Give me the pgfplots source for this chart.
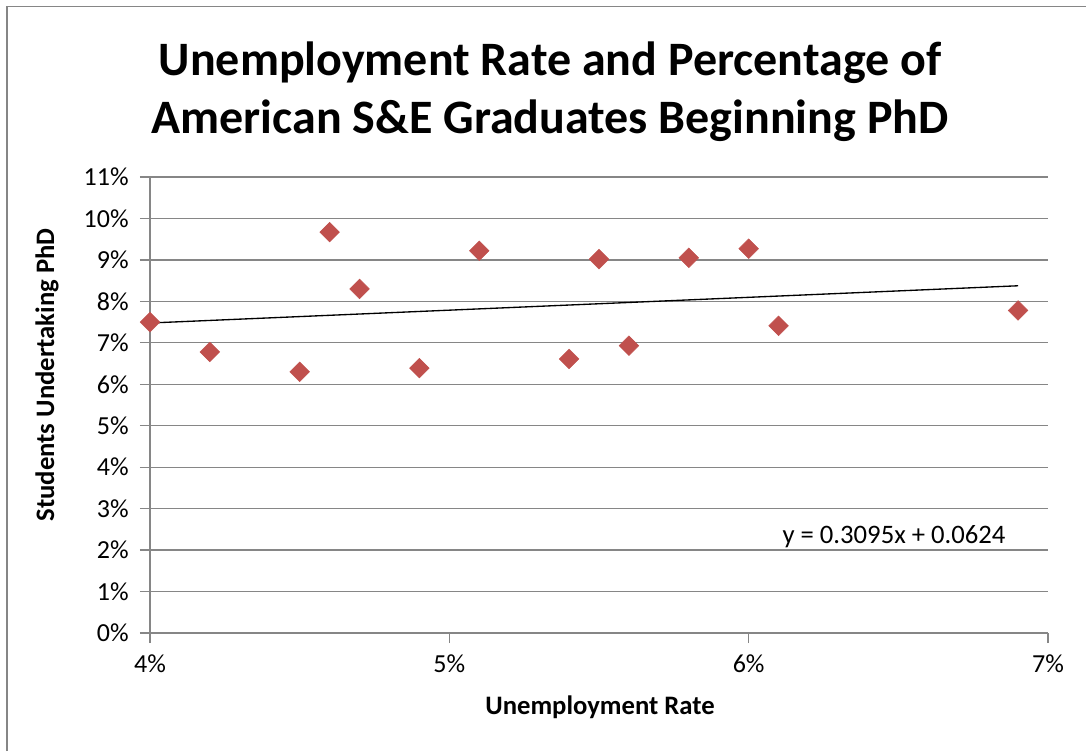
\documentclass[border=0pt]{standalone}
\usepackage{pgfplots}
\pgfplotsset{compat=1.18}
\usepackage{fontspec}
\setmainfont{Carlito}
\definecolor{gridgray}{HTML}{868686}
\definecolor{markred}{HTML}{C0504D}
\begin{document}
\begin{tikzpicture}
\useasboundingbox (0,0) rectangle (814.5pt,563.25pt);
\draw[gridgray, line width=1.2pt] (5.25pt,0) -- (5.25pt,558.4pt) -- (814.5pt,558.4pt);
\node[font=\fontsize{36}{44}\selectfont\bfseries, align=center] at (412.5pt,494.5pt) {Unemployment Rate and Percentage of\\American S\&E Graduates Beginning PhD};
\begin{axis}[
  at={(112.5pt,88.5pt)}, anchor=origin,
  scale only axis, width=673.5pt, height=342pt,
  xmin=4, xmax=7, ymin=0, ymax=11,
  xtick={4,5,6,7}, ytick={0,1,...,11},
  xticklabel={\pgfmathprintnumber{\tick}\%},
  yticklabel={\pgfmathprintnumber{\tick}\%},
  /pgf/number format/assume math mode=true,
  tick label style={font=\fontsize{19.5}{22}\selectfont},
  axis x line*=bottom, axis y line*=left,
  axis line style={gridgray, line width=0.9pt, -},
  ymajorgrids, grid style={gridgray, line width=0.9pt},
  tick style={gridgray, line width=0.9pt},
  tick align=outside, major tick length=7.5pt,
  xticklabel style={yshift=-5pt},
  yticklabel style={xshift=-5pt},
  clip=false,
]
\addplot[only marks, mark=square*, mark size=5.2pt, mark options={rotate=45, fill=markred, draw=markred}] coordinates {
(4.0,7.50) (4.2,6.78) (4.5,6.30) (4.6,9.67) (4.7,8.30) (4.9,6.39) (5.1,9.22)
(5.4,6.61) (5.5,9.02) (5.6,6.93) (5.8,9.05) (6.0,9.27) (6.1,7.41) (6.9,7.78)
};
\addplot[black, line width=1pt] coordinates {(4.0,7.478) (6.9,8.376)};
\end{axis}
\node[font=\fontsize{20}{24}\selectfont] at (670.5pt,160.5pt) {y = 0.3095x + 0.0624};
\node[font=\fontsize{20}{24}\selectfont\bfseries] at (450pt,33pt) {Unemployment Rate};
\node[font=\fontsize{20}{24}\selectfont\bfseries, rotate=90] at (35.25pt,282pt) {Students Undertaking PhD};
\end{tikzpicture}
\end{document}
